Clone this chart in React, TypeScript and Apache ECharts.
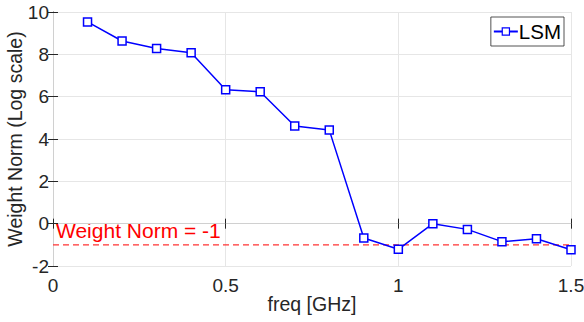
import React, { useEffect, useRef } from "react";
import * as echarts from "echarts";

const freq = [0.1, 0.2, 0.3, 0.4, 0.5, 0.6, 0.7, 0.8, 0.9, 1.0, 1.1, 1.2, 1.3, 1.4, 1.5];
const lsm = [9.53, 8.63, 8.28, 8.08, 6.33, 6.23, 4.61, 4.42, -0.68, -1.21, 0.0, -0.27, -0.85, -0.71, -1.23];
const thresholdX = [0, 1.5];
const thresholdValue = -1;
const thresholdLabel = "Weight Norm = -1";

export default function App() {
  const ref = useRef<HTMLDivElement>(null);
  useEffect(() => {
    if (!ref.current) return;
    const chart = echarts.init(ref.current, null, { renderer: "svg" });
    const font = "'Liberation Sans', Arial, sans-serif";
    const axisLine = { show: true, lineStyle: { color: "#262626", width: 1 } };
    chart.setOption({
      animation: false,
      backgroundColor: "#ffffff",
      grid: {
        left: 53,
        right: 13,
        top: 12,
        bottom: 56,
        containLabel: false,
        outerBoundsMode: "none",
      },
      legend: {
        show: true,
        right: 20,
        top: 17,
        data: [{ name: "LSM", itemStyle: { borderWidth: 1.2 } }],
        itemWidth: 24,
        itemHeight: 9,
        itemGap: 4,
        padding: [4, 3, 4, 2],
        borderColor: "#262626",
        borderWidth: 0.8,
        backgroundColor: "#ffffff",
        textStyle: { fontFamily: font, fontSize: 20.5, color: "#000000", padding: [0, 0, 0, -4] },
      },
      xAxis: [
        {
          type: "value",
          min: 0,
          max: 1.5,
          interval: 0.5,
          name: "freq [GHz]",
          nameLocation: "middle",
          nameGap: 28,
          nameMoveOverlap: false,
          nameTextStyle: { fontFamily: font, fontSize: 19.5, color: "#262626", verticalAlign: "top" },
          axisLine,
          axisTick: { show: true, inside: true, length: 5, lineStyle: { color: "#262626" } },
          axisLabel: {
            fontFamily: font,
            fontSize: 19,
            color: "#262626",
            margin: 10,
            formatter: (v: number) => String(v),
          },
          splitLine: { show: true, lineStyle: { color: "#e6e6e6", width: 1 } },
        },
        {
          type: "value",
          position: "top",
          min: 0,
          max: 1.5,
          interval: 0.5,
          axisLine: { show: true, lineStyle: { color: "#d0d0d0", width: 1 } },
          axisTick: { show: true, inside: true, length: 5, lineStyle: { color: "#262626" } },
          axisLabel: { show: false },
          splitLine: { show: false },
        },
      ],
      yAxis: [
        {
          type: "value",
          min: -2,
          max: 10,
          interval: 2,
          name: "Weight Norm (Log scale)",
          nameLocation: "middle",
          nameGap: 28,
          nameMoveOverlap: false,
          nameTextStyle: { fontFamily: font, fontSize: 19.5, color: "#262626", verticalAlign: "bottom" },
          axisLine,
          axisTick: { show: true, inside: true, length: 5, lineStyle: { color: "#262626" } },
          axisLabel: { fontFamily: font, fontSize: 19, color: "#262626", margin: 4 },
          splitLine: { show: true, lineStyle: { color: "#e6e6e6", width: 1 } },
        },
        {
          type: "value",
          position: "right",
          min: -2,
          max: 10,
          interval: 2,
          axisLine: { show: true, lineStyle: { color: "#d0d0d0", width: 1 } },
          axisTick: { show: true, inside: true, length: 5, lineStyle: { color: "#262626" } },
          axisLabel: { show: false },
          splitLine: { show: false },
        },
      ],
      series: [
        {
          name: "threshold",
          type: "line",
          xAxisIndex: 0,
          yAxisIndex: 0,
          data: thresholdX.map((x) => [x, thresholdValue]),
          symbol: "none",
          silent: true,
          lineStyle: { color: "#ff3333", type: [6, 4], width: 1.2 },
          z: 2,
        },
        {
          name: "LSM",
          type: "line",
          xAxisIndex: 0,
          yAxisIndex: 0,
          data: freq.map((f, i) => [f, lsm[i]]),
          symbol: "rect",
          symbolSize: 8,
          showAllSymbol: true,
          lineStyle: { color: "#0000ff", width: 1.5 },
          itemStyle: { color: "#ffffff", borderColor: "#0000ff", borderWidth: 1.5 },
          z: 3,
        },
      ],
      graphic: [
        {
          type: "text",
          left: 56,
          top: 220,
          style: {
            text: thresholdLabel,
            fontFamily: font,
            fontSize: 21,
            fill: "#ff0000",
          },
        },
      ],
    });
    return () => chart.dispose();
  }, []);
  return (
    <div
      ref={ref}
      style={{ position: "fixed", left: 0, top: 0, width: 584, height: 322 }}
    />
  );
}
